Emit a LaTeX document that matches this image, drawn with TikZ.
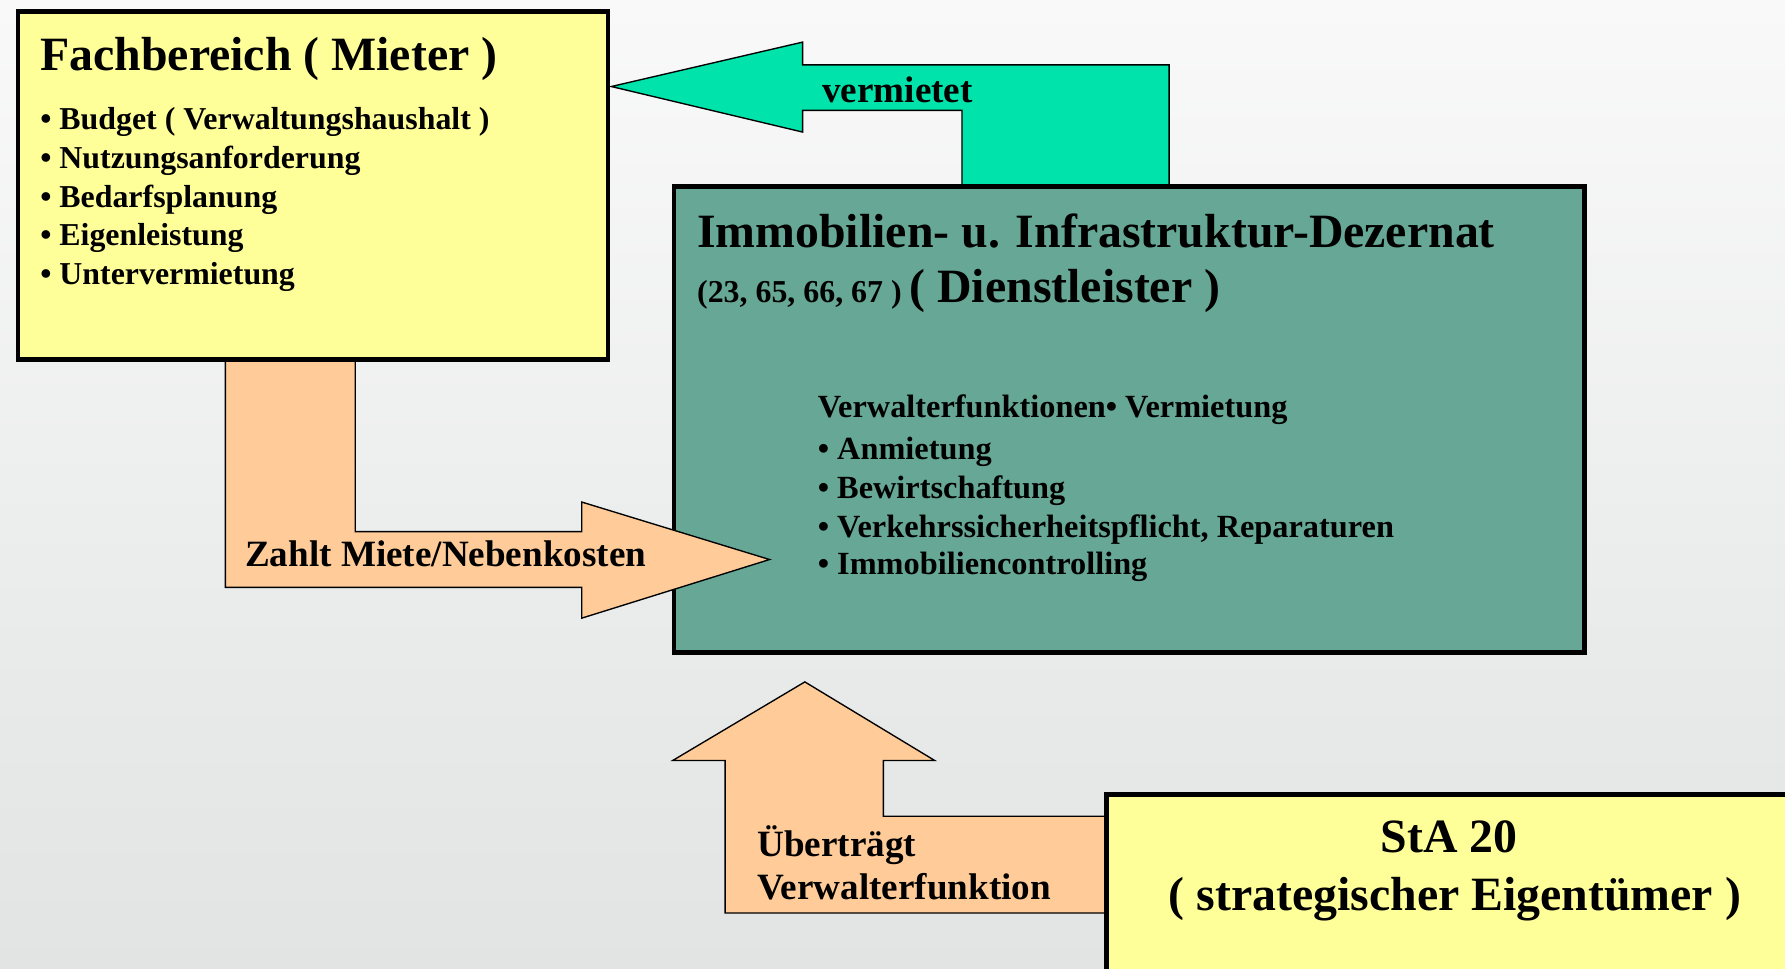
\documentclass[tikz,border=0pt]{standalone}
\usepackage{fontspec}
\setmainfont{Liberation Serif}
\usetikzlibrary{fit}
\definecolor{paleyellow}{HTML}{FFFF99}
\definecolor{seateal}{HTML}{66A895}
\definecolor{mintgreen}{HTML}{00E3AA}
\definecolor{peach}{HTML}{FFCC99}
\definecolor{bgtop}{HTML}{F9F9F9}
\definecolor{bgbottom}{HTML}{E1E4E3}
\newcommand{\bighead}{\fontsize{21}{25}\selectfont\bfseries}
\newcommand{\midlabel}{\fontsize{16.3}{19}\selectfont\bfseries}
\newcommand{\smalllist}{\fontsize{14}{17}\selectfont\bfseries}
\newcommand{\dezlist}{\fontsize{14.2}{17}\selectfont\bfseries}
\tikzset{
  x=0.5pt, y=-0.5pt,
  panel/.style={draw=black, line width=2pt, inner sep=0pt},
  blockarrow/.style={draw=black, line width=0.6pt, line join=miter},
  txt/.style={anchor=base west, inner sep=0pt, text=black},
  ctxt/.style={anchor=base, inner sep=0pt, text=black}
}
\begin{document}
\begin{tikzpicture}
% page and background
\useasboundingbox (0,0) rectangle (1568,851);
\clip (0,0) rectangle (1568,851);
\shade[top color=bgtop, bottom color=bgbottom] (0,0) rectangle (1568,851);

% green arrow: service department lets space to the department
\coordinate (gtip) at (537,76);
\draw[blockarrow, fill=mintgreen] (gtip) -- (705,37) -- (705,57) -- (1027,57)
  -- (1027,164) -- (845,164) -- (845,97) -- (705,97) -- (705,116) -- cycle;
\node[txt] (lblrent) at (722,90) {\midlabel vermietet};

% service department box
\node[panel, fill=seateal, fit={(592,164) (1392,573)}] (dez) {};
\node[txt] (dezt1) at (612,217) {\bighead Immobilien- u. Infrastruktur-Dezernat};
\node[txt] (dezt2) at (612,266) {\smalllist (23, 65, 66, 67 ) \bighead( Dienstleister )};
\node[txt] (dezl0) at (718,367) {\dezlist Verwalterfunktionen• Vermietung};
\node[txt] (dezl1) at (718,404) {\dezlist • Anmietung};
\node[txt] (dezl2) at (718,438) {\dezlist • Bewirtschaftung};
\node[txt] (dezl3) at (718,472) {\dezlist • Verkehrssicherheitspflicht, Reparaturen};
\node[txt] (dezl4) at (718,505) {\dezlist • Immobiliencontrolling};

% peach arrow: department pays rent to the service department
\coordinate (ptip) at (676,491.5);
\draw[blockarrow, fill=peach] (198,316) -- (198,516) -- (511,516) -- (511,543)
  -- (ptip) -- (511,441) -- (511,467) -- (312,467) -- (312,316) -- cycle;
\node[txt] (lblpay) at (215,498) {\midlabel Zahlt Miete/Nebenkosten};

% department (tenant) box
\node[panel, fill=paleyellow, fit={(16,10) (534,316)}] (fach) {};
\node[txt] (facht) at (35,62) {\bighead Fachbereich ( Mieter )};
\node[txt] (fachl1) at (35,114) {\smalllist • Budget ( Verwaltungshaushalt )};
\node[txt] (fachl2) at (35,148) {\smalllist • Nutzungsanforderung};
\node[txt] (fachl3) at (35,182) {\smalllist • Bedarfsplanung};
\node[txt] (fachl4) at (35,216) {\smalllist • Eigenleistung};
\node[txt] (fachl5) at (35,250) {\smalllist • Untervermietung};

% peach arrow: owner hands over management to the service department
\coordinate (utip) at (707,599);
\draw[blockarrow, fill=peach] (637,802) -- (637,668) -- (591,668) -- (utip)
  -- (821,668) -- (776,668) -- (776,717) -- (974,717) -- (974,802) -- cycle;
\node[txt] (lblhand1) at (665,752) {\midlabel Überträgt};
\node[txt] (lblhand2) at (665,790) {\midlabel Verwalterfunktion};

% strategic owner box
\node[panel, fill=paleyellow, fit={(972,698) (1620,900)}] (sta) {};
\node[ctxt] (stat1) at (1273,749) {\bighead StA 20};
\node[ctxt] (stat2) at (1278,800) {\bighead ( strategischer Eigentümer )};
\end{tikzpicture}
\end{document}
